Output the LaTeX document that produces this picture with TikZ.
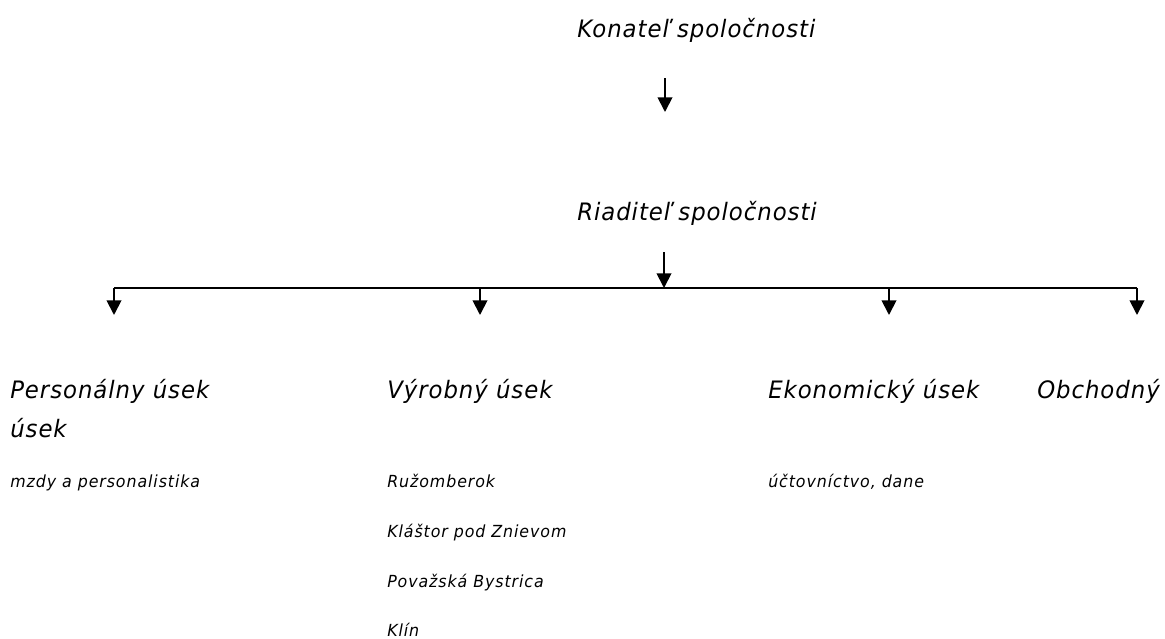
\documentclass[tikz,border=0pt]{standalone}
\usepackage{fontspec}
\setmainfont{DejaVu Sans}[FakeStretch=0.95,LetterSpace=4]
\newfontfamily\itemfont{DejaVu Sans}[FakeStretch=0.95,LetterSpace=5.5]
\usetikzlibrary{arrows.meta}
\begin{document}
\begin{tikzpicture}[x=0.75pt,y=-0.75pt,
        head/.style={font=\itshape\fontsize{18}{29}\selectfont,anchor=base west,inner sep=0pt,align=left},
        item/.style={font=\itemfont\itshape\fontsize{12.5}{15}\selectfont,anchor=base west,inner sep=0pt},
        arr/.style={line width=1.4pt,-{Triangle[width=11pt,length=11pt]}},
        bus/.style={line width=1.4pt}]
        % page frame
        \useasboundingbox (0,0) rectangle (1165,639);
        % top
        \node[head] (kon) at (577,37) {Konateľ spoločnosti};
        \node[head] (rid) at (577,220) {Riaditeľ spoločnosti};
        \coordinate (k1) at (665,78);
        \coordinate (k2) at (665,112);
        \draw[arr] (k1) -- (k2);
        % bus line
        \coordinate (r1) at (664,252);
        \coordinate (r2) at (664,288);
        \coordinate (bl) at (114,288);
        \coordinate (br) at (1137,288);
        \draw[arr] (r1) -- (r2);
        \draw[bus] (bl) -- (br);
        % departments
        \node[head] (per) at (10,437) {Personálny úsek\\úsek};
        \node[head] (vyr) at (387,398) {Výrobný úsek};
        \node[head] (eko) at (768,398) {Ekonomický úsek};
        \node[head,anchor=base east] (obc) at (1160,398) {Obchodný};
        \foreach \x/\n in {114/per,480/vyr,889/eko,1137/obc}
            \draw[arr] (\x,288) coordinate (t\n) -- (\x,315) coordinate (d\n);
        % items
        \node[item] (mzd) at (10,487) {mzdy a personalistika};
        \node[item] (ruz) at (387,487) {Ružomberok};
        \node[item] (kla) at (387,537) {Kláštor pod Znievom};
        \node[item] (pov) at (387,587) {Považská Bystrica};
        \node[item] (kli) at (387,636) {Klín};
        \node[item] (uct) at (768,487) {účtovníctvo, dane};
    \end{tikzpicture}
\end{document}
